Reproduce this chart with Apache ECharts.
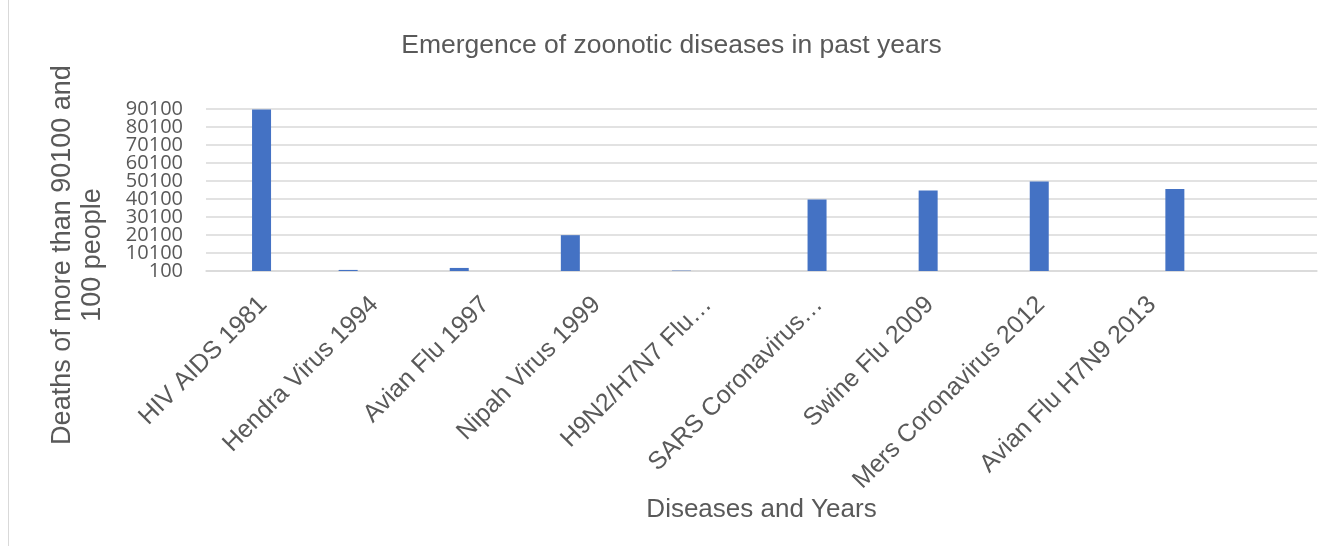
<!DOCTYPE html>
<html>
<head>
<meta charset="utf-8">
<script src="https://cdn.jsdelivr.net/npm/echarts@6/dist/echarts.min.js"></script>
<style>
  html, body { margin: 0; padding: 0; background: #fff; }
  #zoonotic_chart { width: 1343px; height: 546px; }
</style>
</head>
<body>
<div id="zoonotic_chart"></div>
<script>
const categories = [
    "HIV AIDS 1981",
    "Hendra Virus 1994",
    "Avian Flu 1997",
    "Nipah Virus 1999",
    "H9N2/H7N7 Flu…",
    "SARS Coronavirus…",
    "Swine Flu 2009",
    "Mers Coronavirus 2012",
    "Avian Flu H7N9 2013",
    ""
];

// three series, each bar sits in its own slot of the cluster
const leftSeries  = [null, 700, 1800, 20000, 300, null, null, null, null, null];
const midSeries   = [89800, null, null, null, null, 39800, 44800, 49800, null, null];
const rightSeries = [null, null, null, null, null, null, null, null, 45700, null];

const yMin = 100;
const yMax = 90100;
const yStep = 10000;

const textColor = "#595959";
const barColor = "#4472C4";

const makeBar = (name, data) => ({
    name,
    type: "bar",
    data,
    barWidth: 19,
    barGap: "29%",
    itemStyle: { color: barColor }
});

const tickLabel = {
    margin: 23,
    fontFamily: "Open Sans",
    fontSize: 20,
    color: textColor
};

const chart = echarts.init(document.getElementById("zoonotic_chart"));

chart.setOption({
    animation: false,
    title: {
        text: "Emergence of zoonotic diseases in past years",
        left: "center",
        top: 32,
        padding: [0, 0, 0, 20],
        textStyle: {
            fontFamily: "Liberation Sans",
            fontSize: 26.5,
            fontWeight: "normal",
            color: textColor
        }
    },
    grid: {
        left: 206,
        right: 26,
        top: 109,
        bottom: 275,
        containLabel: false
    },
    xAxis: {
        type: "category",
        data: categories,
        name: "Diseases and Years",
        nameLocation: "middle",
        nameGap: 219,
        nameTextStyle: {
            fontFamily: "Liberation Sans",
            fontSize: 26,
            color: textColor
        },
        axisLine: { lineStyle: { color: "#d9d9d9", width: 1.5 } },
        axisTick: { show: false },
        axisLabel: {
            interval: 0,
            rotate: 45,
            align: "right",
            verticalAlign: "top",
            margin: 14,
            padding: [0, 10, 0, 0],
            fontFamily: "Liberation Sans",
            fontSize: 25,
            color: textColor
        }
    },
    yAxis: [
        {
            // inner ticks (ECharts drops the neighbours of min/max when they crowd)
            type: "value",
            position: "left",
            min: yMin,
            max: yMax,
            interval: yStep,
            axisLine: { show: false },
            axisTick: { show: false },
            splitLine: { lineStyle: { color: "#d9d9d9", width: 1.5 } },
            axisLabel: {
                ...tickLabel,
                showMinLabel: false,
                showMaxLabel: false,
                formatter: (value) => String(value)
            }
        },
        {
            // min and max ticks on an overlaid twin axis
            type: "value",
            position: "left",
            offset: 0,
            min: yMin,
            max: yMax,
            interval: yStep,
            axisLine: { show: false },
            axisTick: { show: false },
            splitLine: { show: false },
            axisLabel: {
                ...tickLabel,
                showMinLabel: true,
                showMaxLabel: true,
                formatter: (value) => (value === yMin || value === yMax) ? String(value) : ""
            }
        }
    ],
    graphic: [
        {
            type: "text",
            x: 78,
            y: 255,
            rotation: Math.PI / 2,
            style: {
                text: "Deaths of more than 90100 and\n100 people",
                textAlign: "center",
                textVerticalAlign: "middle",
                fontFamily: "Liberation Sans",
                fontSize: 27,
                lineHeight: 30,
                fill: textColor
            }
        },
        {
            type: "line",
            shape: { x1: 8.5, y1: 0, x2: 8.5, y2: 546 },
            style: { stroke: "#d9d9d9", lineWidth: 1 }
        }
    ],
    series: [
        makeBar("Series 1", leftSeries),
        makeBar("Series 2", midSeries),
        makeBar("Series 3", rightSeries)
    ]
});
</script>
</body>
</html>
